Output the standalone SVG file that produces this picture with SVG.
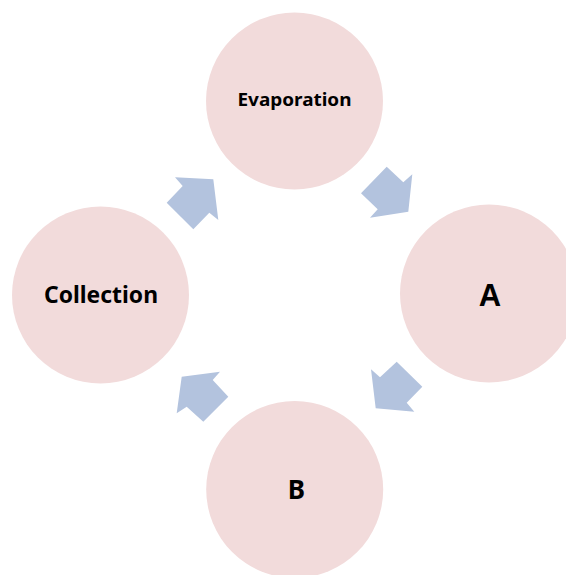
<svg xmlns="http://www.w3.org/2000/svg" width="566" height="575" viewBox="0 0 566 575">
<style>
.node{fill:#F2DBDB}
.arr{fill:#B3C3DE}
.lbl{font-family:"Noto Sans","Open Sans","DejaVu Sans",sans-serif;font-weight:bold;fill:#000;text-anchor:middle}
.lblA{font-family:"Liberation Sans",Arial,sans-serif;font-weight:bold;fill:#000;text-anchor:middle}
</style>
<rect width="566" height="575" fill="#fff"/>
<g id="connectors">
<polygon class="arr" points="175,177.3 213.3,179.3 218.3,220 209.3,212.7 193.3,229.3 166.7,202.7 182.7,186"/>
<polygon class="arr" points="386.7,166.7 403.3,182.3 412.3,174.3 408.3,211.7 370,217.7 377.7,209.3 361,193.3"/>
<polygon class="arr" points="396.7,361.7 422.3,386.7 406.7,402.7 414.3,411.7 375.7,408.3 371,369.3 380,377.3"/>
<polygon class="arr" points="220,371.7 212.7,380 228.3,396.7 203.3,421.7 186.7,406.7 176.7,413.3 181.7,376.7"/>
</g>
<g id="evaporation">
<circle class="node" cx="294.5" cy="101" r="88.5"/>
<text class="lbl" x="294.5" y="106" font-size="17.5" textLength="114" lengthAdjust="spacingAndGlyphs">Evaporation</text>
</g>
<g id="a">
<circle class="node" cx="489" cy="293.5" r="89"/>
<text class="lblA" x="490" y="306" font-size="31">A</text>
</g>
<g id="b">
<circle class="node" cx="294.7" cy="489.5" r="88.5"/>
<text class="lbl" x="296.5" y="499" font-size="26">B</text>
</g>
<g id="collection">
<circle class="node" cx="100.5" cy="295" r="88.5"/>
<text class="lbl" x="101" y="303.3" font-size="22.5" textLength="114" lengthAdjust="spacingAndGlyphs">Collection</text>
</g>
</svg>
